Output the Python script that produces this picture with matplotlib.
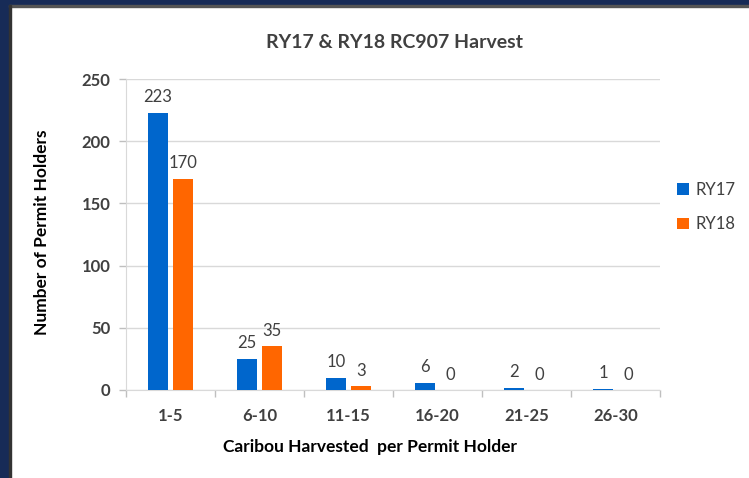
import matplotlib
matplotlib.use("Agg")
import matplotlib.pyplot as plt
from matplotlib.patches import Rectangle
import numpy as np

categories = ["1-5", "6-10", "11-15", "16-20", "21-25", "26-30"]
ry17 = [223, 25, 10, 6, 2, 1]
ry18 = [170, 35, 3, 0, 0, 0]
series_names = ["RY17", "RY18"]
yticks = [0, 50, 100, 150, 200, 250]

plt.rcParams['font.family'] = ['Lato', 'DejaVu Sans']
W, H = 749, 478
fig = plt.figure(figsize=(W/100, H/100), dpi=100)

# frame border
fig.patches.append(Rectangle((0, 0), 9/W, 1, transform=fig.transFigure, color="#172B57", zorder=0))
fig.patches.append(Rectangle((0, 1-5/H), 1, 5/H, transform=fig.transFigure, color="#172B57", zorder=0))
fig.patches.append(Rectangle((9/W, 1-7/H), 1-9/W, 2/H, transform=fig.transFigure, color="#555555", zorder=0))
fig.patches.append(Rectangle((9/W, 0), 2/W, 1-5/H, transform=fig.transFigure, color="#333333", zorder=0))

left, right, top, bottom = 126, 660, 79, 390
ax = fig.add_axes([left/W, 1-bottom/H, (right-left)/W, (bottom-top)/H])

x = np.arange(len(categories))
bw = 0.225
off = 0.14
c17, c18 = "#0066CC", "#FF6600"
b1 = ax.bar(x - off, ry17, bw, color=c17, label=series_names[0], zorder=3)
b2 = ax.bar(x + off, ry18, bw, color=c18, label=series_names[1], zorder=3)
for bars, vals in ((b1, ry17), (b2, ry18)):
    for r, v in zip(bars, vals):
        ax.text(r.get_x() + r.get_width()/2, v + 6, str(v), ha="center", va="bottom",
                fontsize=12, color="#404040")

ax.set_xlim(-0.5, len(categories) - 0.5)
ax.set_ylim(0, 250)
ax.set_yticks(yticks)
ax.set_yticklabels([str(t) for t in yticks], fontsize=12, fontweight="bold", color="#404040")
ax.set_xticks(x)
ax.set_xticklabels(categories, fontsize=12, fontweight="bold", color="#404040")
ax.set_xticks(np.arange(len(categories) + 1) - 0.5, minor=True)
ax.tick_params(axis="x", which="major", length=0, pad=13)
ax.tick_params(axis="x", which="minor", length=5, color="#BFBFBF", width=1)
ax.tick_params(axis="y", length=5, color="#BFBFBF", width=1, pad=6)
ax.grid(axis="y", color="#D9D9D9", linewidth=1, zorder=0)
for s in ["top", "right"]:
    ax.spines[s].set_visible(False)
ax.spines["left"].set_color("#D9D9D9")
ax.spines["bottom"].set_color("#D9D9D9")

fig.text(395/W, 1-42/H, "RY17 & RY18 RC907 Harvest", ha="center", va="center",
         fontsize=14, fontweight="bold", color="#404040")
fig.text(42/W, 1-232/H, "Number of Permit Holders", ha="center", va="center", rotation=90,
         fontsize=12.5, fontweight="bold", color="#000000")
fig.text(370/W, 1-447/H, "Caribou Harvested  per Permit Holder", ha="center", va="center",
         fontsize=12.5, fontweight="bold", color="#000000")

leg = fig.legend(handles=[b1, b2], labels=series_names, loc="center left",
                 bbox_to_anchor=(662/W, 1-207/H), frameon=False, fontsize=12,
                 handlelength=0.7, handleheight=0.7, handletextpad=0.4, labelspacing=1.1,
                 labelcolor="#404040")

fig.savefig("out.png", dpi=100)
